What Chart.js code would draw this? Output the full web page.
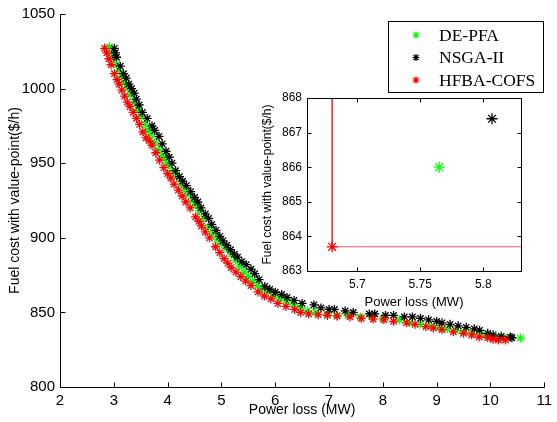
<!DOCTYPE html>
<html>
<head>
<meta charset="utf-8">
<script src="https://cdn.jsdelivr.net/npm/chart.js@4/dist/chart.umd.min.js"></script>
<style>
    body { margin: 0; background: #fff; }
    #wrap { position: relative; width: 557px; height: 422px; }
    #chart-main { position: absolute; left: 0; top: 0; }
    #chart-inset { position: absolute; left: 240px; top: 85px; }
</style>
</head>
<body>
<div id="wrap">
    <canvas id="chart-main" width="557" height="422"></canvas>
    <canvas id="chart-inset" width="290" height="230"></canvas>
</div>
<script>
// Data -------------------------------------
// --> Pareto fronts, [power loss (MW), fuel cost ($/h)]

const names = ['DE-PFA', 'NSGA-II', 'HFBA-COFS']

const de_pfa = [
    [2.92, 1028], [2.96, 1024], [3.00, 1020], [3.05, 1016], [3.10, 1012], [3.15, 1008],
    [3.20, 1004], [3.25, 1001], [3.31, 996], [3.38, 991], [3.45, 986], [3.51, 981],
    [3.58, 976], [3.64, 972], [3.69, 969], [3.76, 964], [3.83, 959], [3.90, 955],
    [3.96, 952], [4.02, 949], [4.09, 945], [4.17, 941], [4.26, 936], [4.33, 932],
    [4.40, 929], [4.47, 925], [4.52, 922], [4.59, 918], [4.67, 913], [4.76, 907],
    [4.84, 903], [4.92, 899], [5.00, 896], [5.09, 893], [5.18, 889], [5.26, 885],
    [5.34, 881], [5.42, 877], [5.50, 874], [5.58, 871], [5.67, 868], [5.765, 866],
    [5.87, 864], [5.98, 861], [6.10, 859], [6.22, 857], [6.35, 855], [6.47, 853],
    [6.60, 851], [6.75, 850], [6.97, 849], [7.15, 848], [7.35, 848], [7.58, 847],
    [7.80, 847], [8.00, 846], [8.31, 845], [8.50, 843], [8.70, 842], [8.90, 841],
    [9.05, 840], [9.20, 839], [9.35, 838], [9.50, 837], [9.67, 836], [9.85, 835],
    [10.00, 834], [10.10, 833.5], [10.25, 833], [10.56, 832.8],
]

const nsga2 = [
    [3.01, 1027], [3.03, 1024], [3.05, 1021], [3.12, 1015], [3.18, 1010], [3.23, 1007],
    [3.28, 1003], [3.33, 1000], [3.38, 997], [3.42, 993], [3.47, 989], [3.53, 984],
    [3.62, 980], [3.71, 975], [3.76, 972], [3.84, 968], [3.90, 963], [3.97, 958],
    [4.03, 954], [4.08, 950], [4.15, 945], [4.22, 941], [4.28, 938], [4.35, 935],
    [4.43, 931], [4.50, 927], [4.56, 924], [4.62, 920], [4.70, 916], [4.76, 913],
    [4.82, 909], [4.90, 905], [4.97, 901], [5.03, 898], [5.10, 895], [5.17, 892],
    [5.24, 889], [5.30, 887], [5.38, 884], [5.46, 882], [5.55, 879], [5.62, 876],
    [5.70, 872], [5.807, 867.4], [5.90, 865.5], [6.00, 863.5], [6.12, 862], [6.22, 860],
    [6.35, 858], [6.50, 856], [6.72, 855], [6.85, 853], [7.00, 852], [7.10, 852],
    [7.30, 851], [7.45, 850], [7.75, 849], [7.85, 849], [8.05, 848], [8.20, 848],
    [8.40, 847], [8.55, 847], [8.70, 846], [8.85, 845], [9.00, 844], [9.10, 843],
    [9.25, 842], [9.40, 841], [9.55, 840], [9.70, 839], [9.80, 838], [9.95, 836],
    [10.05, 835], [10.20, 834], [10.37, 833.5], [10.40, 833],
]

const hfba_cofs = [
    [2.83, 1027], [2.87, 1024], [2.91, 1020], [2.95, 1016], [3.01, 1010], [3.06, 1006],
    [3.10, 1003], [3.15, 999], [3.20, 995], [3.25, 991], [3.30, 988], [3.36, 984],
    [3.42, 980], [3.48, 976], [3.54, 971], [3.60, 967], [3.66, 965], [3.71, 962],
    [3.78, 957], [3.85, 952], [3.93, 947], [4.00, 943], [4.06, 940], [4.12, 936],
    [4.20, 932], [4.27, 928], [4.34, 924], [4.42, 920], [4.52, 914], [4.58, 911],
    [4.63, 908], [4.70, 904], [4.78, 900], [4.89, 894], [4.97, 890], [5.05, 886],
    [5.12, 883], [5.18, 880], [5.27, 877], [5.36, 874], [5.45, 871], [5.55, 868],
    [5.68, 863.7], [5.80, 861], [5.92, 859], [6.05, 856], [6.20, 854], [6.36, 852],
    [6.47, 850], [6.62, 849], [6.80, 848.5], [6.97, 848], [7.15, 847.5], [7.39, 847],
    [7.60, 846], [7.82, 845.5], [8.02, 845], [8.20, 844], [8.44, 843], [8.60, 842],
    [8.80, 840.5], [8.94, 839.5], [9.10, 838.5], [9.31, 837], [9.50, 836], [9.65, 835],
    [9.79, 833.5], [9.95, 833], [10.05, 832], [10.15, 831.5], [10.28, 831.5],
]

// zoomed view: the single compromise point of each method
const inset_points = [[5.765, 866.0], [5.807, 867.4], [5.68, 863.7]]

// Axis settings -------------------------------------

const x_ticks = [2, 3, 4, 5, 6, 7, 8, 9, 10, 11]
const y_ticks = [800, 850, 900, 950, 1000, 1050]
const x_ticks_inset = [5.7, 5.75, 5.8]
const y_ticks_inset = [863, 864, 865, 866, 867, 868]
const x_range_inset = [5.66, 5.83]

const colors = ['#00ff00', '#000000', '#ff0000']
const font_sans = 'Arial, "Liberation Sans", sans-serif'
const font_serif = '"Times New Roman", "Liberation Serif", serif'

// Helpers -------------------------------------

function toPoints(arr) {
    return arr.map(p => ({ x: p[0], y: p[1] }))
}

function fixedTicks(list) {
    return function (scale) {
        scale.ticks = list.map(v => ({ value: v }))
    }
}

// plain number labels, no thousands separator
function plainLabel(v) {
    return String(v)
}

// matlab style axes: inside tick marks, optional full box
const insideTicks = {
    id: 'insideTicks',
    beforeDatasetsDraw(chart, args, opts) {
        if (!opts.white) return
        const a = chart.chartArea
        chart.ctx.save()
        chart.ctx.fillStyle = '#fff'
        chart.ctx.fillRect(a.left, a.top, a.right - a.left, a.bottom - a.top)
        chart.ctx.restore()
    },
    afterDraw(chart, args, opts) {
        const ctx = chart.ctx
        const a = chart.chartArea
        const x = chart.scales.x
        const y = chart.scales.y
        const len = opts.len
        const L = Math.round(a.left) + 0.5
        const R = Math.round(a.right) + 0.5
        const T = Math.round(a.top) + 0.5
        const B = Math.round(a.bottom) + 0.5

        ctx.save()
        ctx.strokeStyle = '#000'
        ctx.lineWidth = 1
        ctx.beginPath()
        x.ticks.forEach(t => {
            const px = Math.round(x.getPixelForValue(t.value)) + 0.5
            ctx.moveTo(px, B)
            ctx.lineTo(px, B - len)
            if (opts.box) {
                ctx.moveTo(px, T)
                ctx.lineTo(px, T + len)
            }
        })
        y.ticks.forEach(t => {
            const py = Math.round(y.getPixelForValue(t.value)) + 0.5
            ctx.moveTo(L, py)
            ctx.lineTo(L + len, py)
            if (opts.box) {
                ctx.moveTo(R, py)
                ctx.lineTo(R - len, py)
            }
        })
        ctx.moveTo(L, T)
        ctx.lineTo(L, B)
        ctx.lineTo(R, B)
        if (opts.box) {
            ctx.lineTo(R, T)
            ctx.lineTo(L, T)
        }
        ctx.stroke()
        ctx.restore()
    }
}

// legend box in upper right corner
const legendBox = {
    id: 'legendBox',
    afterDraw(chart) {
        const ctx = chart.ctx
        ctx.save()
        ctx.fillStyle = '#fff'
        ctx.fillRect(388.5, 21.5, 155, 71)
        ctx.strokeStyle = '#000'
        ctx.lineWidth = 1
        ctx.strokeRect(388.5, 21.5, 155, 71)
        ctx.font = '17.5px ' + font_serif
        ctx.textBaseline = 'middle'
        names.forEach((name, i) => {
            const ly = 35 + i * 22.5
            ctx.strokeStyle = colors[i]
            ctx.lineWidth = 1.2
            Chart.helpers.drawPoint(ctx, { pointStyle: 'star', radius: 3.5, borderWidth: 1.2, rotation: 0 }, 416, ly)
            ctx.fillStyle = '#000'
            ctx.fillText(name, 439, ly + 1)
        })
        ctx.restore()
    }
}

function dataset(label, arr, color, radius, order) {
    return {
        label: label,
        data: toPoints(arr),
        pointStyle: 'star',
        pointRadius: radius,
        borderWidth: 1.3,
        borderColor: color,
        backgroundColor: color,
        showLine: false,
        order: order,
    }
}

// Main chart -------------------------------------

const main_config = {
    type: 'scatter',
    data: {
        datasets: [
            dataset(names[0], de_pfa, colors[0], 4.5, 2),
            dataset(names[1], nsga2, colors[1], 4.5, 1),
            dataset(names[2], hfba_cofs, colors[2], 4.5, 0),
        ]
    },
    options: {
        responsive: false,
        animation: false,
        layout: { padding: { top: 14, right: 8, left: 0, bottom: 0 } },
        plugins: {
            legend: { display: false },
            tooltip: { enabled: false },
            insideTicks: { len: 5, box: false, white: false },
        },
        scales: {
            x: {
                type: 'linear',
                min: 2,
                max: 11,
                afterBuildTicks: fixedTicks(x_ticks),
                afterFit: function (s) { s.height = 35 },
                grid: { display: false, drawTicks: false },
                border: { display: false },
                ticks: { color: '#000', font: { family: font_sans, size: 15 }, padding: 5, maxRotation: 0,
                    callback: plainLabel },
                title: {
                    display: true,
                    text: 'Power loss (MW)',
                    color: '#000',
                    font: { family: font_sans, size: 14 },
                    padding: { top: 0, bottom: 3 },
                },
            },
            y: {
                type: 'linear',
                min: 800,
                max: 1050,
                afterBuildTicks: fixedTicks(y_ticks),
                afterFit: function (s) { s.width = 60 },
                grid: { display: false, drawTicks: false },
                border: { display: false },
                ticks: { color: '#000', font: { family: font_sans, size: 15 }, padding: 5,
                    callback: plainLabel },
                title: {
                    display: true,
                    text: 'Fuel cost with value-point($/h)',
                    color: '#000',
                    font: { family: font_sans, size: 14 },
                    padding: { top: 7, bottom: 0 },
                },
            },
        },
    },
    plugins: [insideTicks, legendBox],
}

const chart = new Chart(document.getElementById('chart-main').getContext('2d'), main_config)

// Inset chart -------------------------------------

const p_red = inset_points[2]

const inset_datasets = inset_points.map((p, i) => dataset(names[i], [p], colors[i], 5.5, 2 - i))

// red guide lines from the HFBA-COFS point to the top and right of the inset
inset_datasets.push({
    data: toPoints([[p_red[0], y_ticks_inset[y_ticks_inset.length - 1]], p_red, [x_range_inset[1], p_red[1]]]),
    showLine: true,
    pointRadius: 0,
    borderWidth: 1,
    borderColor: 'rgba(255, 0, 0, 0.65)',
    order: 3,
})

const inset_config = {
    type: 'scatter',
    data: { datasets: inset_datasets },
    options: {
        responsive: false,
        animation: false,
        layout: { padding: { top: 13, right: 9, left: 0, bottom: 0 } },
        plugins: {
            legend: { display: false },
            tooltip: { enabled: false },
            insideTicks: { len: 4, box: true, white: true },
        },
        scales: {
            x: {
                type: 'linear',
                min: x_range_inset[0],
                max: x_range_inset[1],
                afterBuildTicks: fixedTicks(x_ticks_inset),
                afterFit: function (s) { s.height = 44 },
                grid: { display: false, drawTicks: false },
                border: { display: false },
                ticks: { color: '#000', font: { family: font_sans, size: 12 }, padding: 6, maxRotation: 0,
                    callback: plainLabel },
                title: {
                    display: true,
                    text: 'Power loss (MW)',
                    color: '#000',
                    font: { family: font_sans, size: 13 },
                    padding: { top: 0, bottom: 5 },
                },
            },
            y: {
                type: 'linear',
                min: y_ticks_inset[0],
                max: y_ticks_inset[y_ticks_inset.length - 1],
                afterBuildTicks: fixedTicks(y_ticks_inset),
                afterFit: function (s) { s.width = 67 },
                grid: { display: false, drawTicks: false },
                border: { display: false },
                ticks: { color: '#000', font: { family: font_sans, size: 12 }, padding: 5,
                    callback: plainLabel },
                title: {
                    display: true,
                    text: 'Fuel cost with value-point($/h)',
                    color: '#000',
                    font: { family: font_sans, size: 12 },
                    padding: { top: 20, bottom: 0 },
                },
            },
        },
    },
    plugins: [insideTicks],
}

const inset = new Chart(document.getElementById('chart-inset').getContext('2d'), inset_config)
</script>
</body>
</html>
